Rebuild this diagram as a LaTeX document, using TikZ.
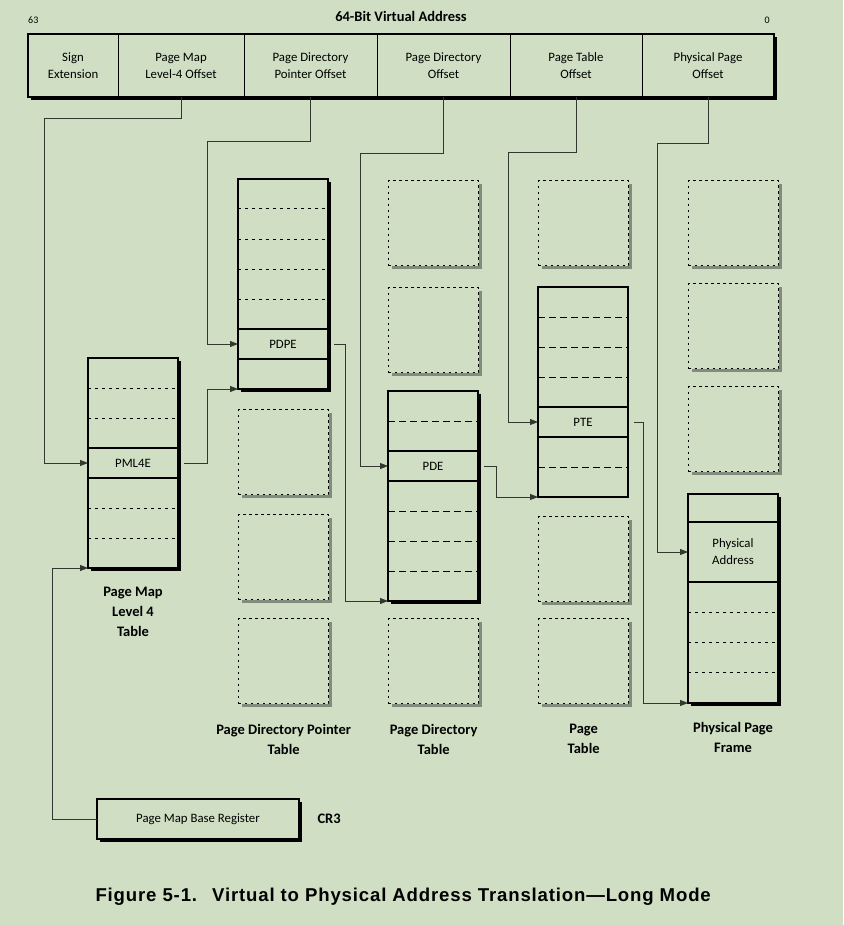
\documentclass[tikz,border=0pt]{standalone}
\usepackage{fontspec}
\setmainfont{Carlito}
\newfontfamily\captionfont[LetterSpace=4.5]{Liberation Sans}
\usetikzlibrary{positioning,arrows.meta,shadows}
\definecolor{PaleSage}{RGB}{208,223,196}
\definecolor{ShadowGray}{RGB}{130,140,124}
\definecolor{WireGray}{RGB}{50,55,48}

\begin{document}
\begin{tikzpicture}[x=1pt,y=-1pt,
    small/.style={font=\fontsize{12.8}{17}\selectfont},
    tname/.style={font=\fontsize{14.5}{20}\selectfont\bfseries, align=center},
    bitno/.style={font=\fontsize{10}{12}\selectfont, inner sep=0pt},
    field/.style={draw, line width=1pt, small, align=center, minimum height=63pt, inner sep=0pt, outer sep=0pt},
    pagetable/.style={draw, line width=1.1pt, fill=PaleSage, anchor=north west, inner sep=0pt, outer sep=0pt, minimum width=90pt, drop shadow={shadow xshift=3pt, shadow yshift=-3pt, opacity=1, fill=black}},
    thintable/.style={draw, line width=1.1pt, anchor=north west, inner sep=0pt, outer sep=0pt, minimum width=90pt},
    entry/.style={thintable, small, minimum height=30pt, align=center},
    slot/.style={draw, line width=1.3pt, dash pattern=on 2.5pt off 3.5pt, fill=PaleSage, anchor=north west, minimum width=90pt, minimum height=85pt, drop shadow={shadow xshift=3pt, shadow yshift=-3pt, opacity=1, fill=ShadowGray}},
    fine/.style={line width=1pt, dash pattern=on 3pt off 4pt},
    coarse/.style={line width=1pt, dash pattern=on 7pt off 4pt},
    link/.style={WireGray, line width=0.8pt},
    ptr/.style={link, -{Triangle[length=8pt, width=6pt]}}
]
    \useasboundingbox (0,0) rectangle (843,925);
    \fill[PaleSage] (0,0) rectangle (843,925);

    \foreach \x/\y [count=\i] in {238/409,238/514,238/618,388/180,388/287,388/618,538/180,538/516,538/618,688/180,688/283,688/386}
        \node[slot] (slot\i) at (\x,\y) {};

    \node[pagetable, minimum height=210pt] (pml4) at (88,358) {};
    \node[pagetable, minimum height=210pt] (pdpt) at (238,179) {};
    \node[pagetable, minimum height=210pt] (pd) at (388,391) {};
    \node[thintable, minimum height=210pt] (pt) at (538,287) {};
    \node[pagetable, minimum height=209pt] (frame) at (688,494) {};

    \node[entry] (pml4e) at (88,448) {PML4E};
    \node[entry] (pdpe) at (238,329) {PDPE};
    \node[entry] (pde) at (388,451) {PDE};
    \node[entry] (pte) at (538,407) {PTE};
    \node[entry, minimum height=60pt] (paddr) at (688,522) {Physical\\Address};

    \foreach \y in {388,418,508,538} \draw[fine] (pml4.west |- 0,\y) -- (pml4.east |- 0,\y);
    \foreach \y in {209,239,269,299} \draw[fine] (pdpt.west |- 0,\y) -- (pdpt.east |- 0,\y);
    \foreach \y in {421,511,541,571} \draw[coarse] (pd.west |- 0,\y) -- (pd.east |- 0,\y);
    \foreach \y in {317,347,377,467} \draw[coarse] (pt.west |- 0,\y) -- (pt.east |- 0,\y);
    \foreach \y in {612,642,672} \draw[fine] (frame.west |- 0,\y) -- (frame.east |- 0,\y);

    \node[pagetable, minimum width=746pt, minimum height=63pt] (vaddr) at (28,34) {};
    \node[field, anchor=north west, minimum width=90pt] (fSign) at (28,34) {Sign\\Extension};
    \node[field, right=0pt of fSign, minimum width=126pt] (fPML4) {Page Map\\Level-4 Offset};
    \node[field, right=0pt of fPML4, minimum width=133pt] (fPDP) {Page Directory\\Pointer Offset};
    \node[field, right=0pt of fPDP, minimum width=133pt] (fPD) {Page Directory\\Offset};
    \node[field, right=0pt of fPD, minimum width=132pt] (fPT) {Page Table\\Offset};
    \node[field, right=0pt of fPT, minimum width=132pt] (fPhys) {Physical Page\\Offset};
    \node[font=\fontsize{14.5}{16}\selectfont\bfseries, above=9pt of vaddr] (vtitle) {64-Bit Virtual Address};
    \node[bitno, anchor=south west] (msb) at ([yshift=10pt]vaddr.north west) {63};
    \node[bitno, anchor=south east] (lsb) at ([xshift=-4pt,yshift=10pt]vaddr.north east) {0};

    \node[pagetable, small, minimum width=202pt, minimum height=40pt] (cr3) at (97,799) {Page Map Base Register};
    \node[tname, right=15pt of cr3] (cr3lbl) {CR3};

    \draw[ptr] (fPML4.south) -- ++(0,21) -| ([xshift=-44pt]pml4e.west) -- (pml4e.west);
    \draw[ptr] (fPDP.south) -- ++(0,44) -| ([xshift=-31pt]pdpe.west) -- (pdpe.west);
    \draw[ptr] (fPD.south) -- ++(0,56) -| ([xshift=-28pt]pde.west) -- (pde.west);
    \draw[ptr] (fPT.south) -- ++(0,55) -| ([xshift=-30pt]pte.west) -- (pte.west);
    \draw[ptr] (fPhys.south) -- ++(0,46) -| ([xshift=-31pt]paddr.west) -- (paddr.west);
    \draw[ptr] ([xshift=6pt]pml4e.east) -| ([xshift=-31pt]pdpt.south west) -- (pdpt.south west);
    \draw[ptr] ([xshift=6pt]pdpe.east) -| ([xshift=-43pt]pd.south west) -- (pd.south west);
    \draw[ptr] ([xshift=6pt]pde.east) -| ([xshift=-42pt]pt.south west) -- (pt.south west);
    \draw[ptr] ([xshift=6pt]pte.east) -| ([xshift=-45pt]frame.south west) -- (frame.south west);
    \draw[ptr] (cr3.west) -| ([xshift=-36pt]pml4.south west) -- (pml4.south west);

    \node[tname, below=16pt of pml4] (pml4lbl) {Page Map\\Level 4\\Table};
    \node[tname, below=16pt of slot3] (pdptlbl) {Page Directory Pointer\\Table};
    \node[tname, below=16pt of slot6] (pdlbl) {Page Directory\\Table};
    \node[tname, below=16pt of slot9] (ptlbl) {Page\\Table};
    \node[tname, below=16pt of frame] (framelbl) {Physical Page\\Frame};

    \node[font=\captionfont\fontsize{18.6}{20}\selectfont\bfseries, anchor=west] (caption) at (92,897) {Figure 5-1.\hspace{15pt}Virtual to Physical Address Translation—Long Mode};
\end{tikzpicture}
\end{document}
